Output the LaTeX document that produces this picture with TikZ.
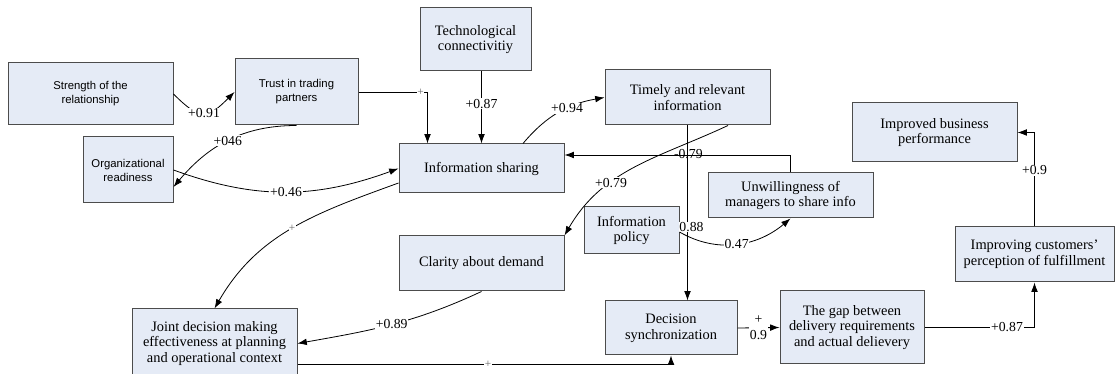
\documentclass[tikz,border=0pt]{standalone}
\usepackage{fontspec}
\setmainfont{Liberation Serif}
\setsansfont{Liberation Sans}
\usetikzlibrary{calc,arrows.meta,positioning}
\definecolor{boxfill}{RGB}{229,235,246}
\def\px{0.75pt}
\tikzset{
  box/.style={draw=black!70, fill=boxfill, line width=0.75pt, align=center,
    inner sep=2pt, font=\fontsize{10.8}{11.8}\selectfont},
  sbox/.style={box, font=\sffamily\fontsize{8.5}{10.5}\selectfont},
  lab/.style={fill=white, inner sep=0.6pt, font=\fontsize{10.3}{12.5}\selectfont},
  plus/.style={fill=white, inner sep=0.3pt, text=black!60,
    font=\fontsize{8.5}{9}\selectfont},
  arr/.style={-{Latex[length=7pt,width=5pt]}, line width=0.6pt}
}

\begin{document}
\begin{tikzpicture}[x=\px, y=\px]
  \clip (0,0) rectangle (1115,374);
  \node[sbox, minimum width=165*\px, minimum height=62*\px] (str) at (90.5,280)
  {Strength of the\\relationship};
  \node[sbox, minimum width=123*\px, minimum height=66*\px] (trust) at (296.5,282)
  {Trust in trading\\partners};
  \node[sbox, minimum width=90*\px, minimum height=66*\px] (org) at (128,204)
  {Organizational\\readiness};
  \node[box, minimum width=111*\px, minimum height=63*\px] (tech) at (475.5,334.5)
  {Technological\\connectivitiy};
  \node[box, minimum width=165*\px, minimum height=49*\px] (share) at (481.5,205.5)
  {Information sharing};
  \node[box, minimum width=165*\px, minimum height=55*\px] (timely) at (687.5,276.5)
  {Timely and relevant\\information};
  \node[box, minimum width=165*\px, minimum height=45*\px] (unw) at (790.5,178.5)
  {Unwillingness of\\managers to share info};
  \node[box, minimum width=95*\px, minimum height=47*\px] (policy) at (631.5,143.5)
  {Information\\policy};
  \node[box, minimum width=165*\px, minimum height=55*\px] (clarity) at (481.5,110.5)
  {Clarity about demand};
  \node[box, minimum width=165*\px, minimum height=69*\px] (joint) at (214.5,30.5)
  {Joint decision making\\effectiveness at planning\\and operational context};
  \node[box, minimum width=132*\px, minimum height=54*\px] (dec) at (671,46)
  {Decision\\synchronization};
  \node[box, minimum width=144*\px, minimum height=73*\px] (gap) at (852,46.5)
  {The gap between\\delivery requirements\\and actual delievery};
  \node[box, minimum width=165*\px, minimum height=59*\px] (impd) at (934.5,241.5)
  {Improved business\\performance};
  \node[box, minimum width=159*\px, minimum height=55*\px] (impg) at (1034.5,119.5)
  {Improving customers'\\perception of fulfillment};

  \draw[arr] (str.east) to[out=-45,in=-135,looseness=1.6]
  node[lab]{+0.91} (trust.west);
  \draw[arr] (trust.south) to[out=180,in=50]
  node[lab]{+046} ($(org.east)+(0,-17)$);
  \draw[arr] (trust.east) -| node[plus,pos=0.45]{+}
  ($(share.north west)+(29,0)$);
  \draw[arr] (share.north |- tech.south) -- node[lab,pos=0.45]{+0.87} (share.north);
  \draw[arr] (org.east) to[out=-20,in=-160] node[lab]{+0.46} (share.west);
  \draw[arr] ($(share.west)+(0,-14.5)$) to[out=200,in=60]
  node[plus]{+} (joint.north);
  \draw[arr] ($(share.north)+(41.5,0)$) to[out=50,in=190]
  node[lab,pos=0.6]{+0.94} (timely.west);
  \draw[arr] ($(timely.south)+(40.5,0)$) to[out=205,in=60]
  node[lab,pos=0.65]{+0.79} (clarity.north east);
  \draw[arr] (timely.south) -- node[lab,pos=0.58,xshift=3pt]{0.88}
  (timely.south |- dec.north);
  \draw[arr] (unw.north) |- node[pos=0.726,inner sep=0pt,yshift=0.5pt,
    font=\fontsize{10.3}{12}\selectfont]{-0.79} ($(share.east)+(0,13.5)$);
  \draw[arr] ($(policy.east)+(0,-1.5)$) to[out=-30,in=-140]
  node[lab]{0.47} (unw.south);
  \draw[arr] (clarity.south) to[out=205,in=10] node[lab]{+0.89} (joint.east);
  \draw[arr] ($(joint.east)+(0,-20.5)$) -| node[plus,pos=0.255]{+} (dec.south);
  \draw[arr] (dec.east) -- node[lab,align=center]{+\\0.9} (gap.west);
  \draw[arr] (gap.east) -| node[lab,pos=0.375]{+0.87} (impg.south);
  \draw[arr] (impg.north) |- node[lab,pos=0.3]{+0.9} (impd.east);
\end{tikzpicture}
\end{document}
